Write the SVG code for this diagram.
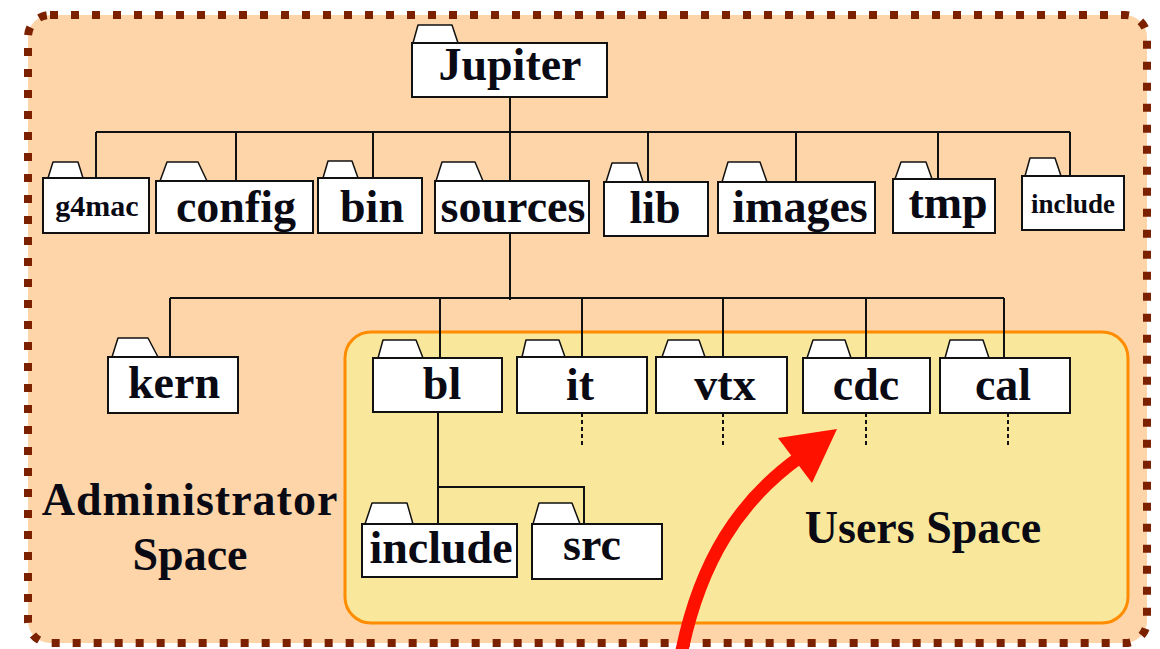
<svg xmlns="http://www.w3.org/2000/svg" width="1160" height="649" viewBox="0 0 1160 649">
<style>
.box{fill:#fff;stroke:#111;stroke-width:2}
.tab{fill:#fff;stroke:#111;stroke-width:1.5;stroke-linejoin:round}
.lbl{font-family:"Liberation Serif","Times New Roman",serif;font-weight:bold;font-size:46px;fill:#0a0a14;text-anchor:middle}
.sm{font-size:30px}
.ln{stroke:#111;stroke-width:2;fill:none}
.dash{stroke:#111;stroke-width:2;stroke-dasharray:4 3;fill:none}
</style>
<rect id="admin-space" x="28" y="15" width="1119" height="628" rx="22" fill="#FDD5A8" stroke="#7B2100" stroke-width="8" stroke-dasharray="8 13"/>
<rect id="users-space" x="345" y="332" width="783" height="291" rx="26" fill="#F9E89B" stroke="#FF8C00" stroke-width="3"/>
<text class="lbl" x="190" y="515" letter-spacing="1">Administrator</text>
<text class="lbl" x="190" y="570">Space</text>
<text class="lbl" x="923" y="543">Users Space</text>
<g id="connectors">
<path class="ln" d="M510 97V132M96 132H1070M96 132V178M236 132V181M373 132V178M510 132V181M648 132V182M796 132V182M938 132V179M1070 132V176"/>
<path class="ln" d="M510 233V300M170 298H1004M170 298V357M440 298V358M582 298V357M723 298V357M866 298V358M1004 298V358"/>
<path class="ln" d="M438 412V524M438 487H584V524"/>
<path class="dash" d="M582 413V448M723 413V448M866 413V446M1008 413V446"/>
</g>
<g id="jupiter"><polygon class="tab" points="413,43 418,25 452,25 458,43"/><rect class="box" x="412" y="43" width="195" height="54"/><text class="lbl" x="510" y="80">Jupiter</text></g>
<g id="g4mac"><polygon class="tab" points="48,178 53,162 78,162 83,178"/><rect class="box" x="43" y="178" width="106" height="55"/><text class="lbl sm" x="97" y="216">g4mac</text></g>
<g id="config"><polygon class="tab" points="160,181 167,162 198,162 207,181"/><rect class="box" x="156" y="181" width="157" height="52"/><text class="lbl" x="236" y="222">config</text></g>
<g id="bin"><polygon class="tab" points="323,178 328,161 352,161 358,178"/><rect class="box" x="318" y="178" width="104" height="55"/><text class="lbl" x="372" y="222">bin</text></g>
<g id="sources"><polygon class="tab" points="436,181 442,162 475,162 483,181"/><rect class="box" x="435" y="181" width="154" height="52"/><text class="lbl" x="513" y="222">sources</text></g>
<g id="lib"><polygon class="tab" points="606,182 612,163 637,163 643,182"/><rect class="box" x="604" y="182" width="104" height="54"/><text class="lbl" x="655" y="223">lib</text></g>
<g id="images"><polygon class="tab" points="722,182 728,162 760,162 767,182"/><rect class="box" x="718" y="182" width="157" height="51"/><text class="lbl" x="800" y="222">images</text></g>
<g id="tmp"><polygon class="tab" points="895,179 901,162 926,162 932,179"/><rect class="box" x="893" y="179" width="102" height="54"/><text class="lbl" x="948" y="218">tmp</text></g>
<g id="include-top"><polygon class="tab" points="1025,176 1030,158 1055,158 1061,176"/><rect class="box" x="1022" y="176" width="102" height="54"/><text class="lbl" x="1073" y="213" style="font-size:27px">include</text></g>
<g id="kern"><polygon class="tab" points="112,357 118,338 148,338 158,357"/><rect class="box" x="108" y="357" width="130" height="56"/><text class="lbl" x="174" y="398">kern</text></g>
<g id="bl"><polygon class="tab" points="378,358 383,340 416,340 423,358"/><rect class="box" x="373" y="358" width="129" height="54"/><text class="lbl" x="442" y="399">bl</text></g>
<g id="it"><polygon class="tab" points="522,357 526,340 559,340 565,357"/><rect class="box" x="517" y="357" width="130" height="56"/><text class="lbl" x="580" y="400">it</text></g>
<g id="vtx"><polygon class="tab" points="662,357 668,340 699,340 705,357"/><rect class="box" x="656" y="357" width="131" height="56"/><text class="lbl" x="725" y="400">vtx</text></g>
<g id="cdc"><polygon class="tab" points="807,358 813,340 845,340 851,358"/><rect class="box" x="803" y="358" width="127" height="55"/><text class="lbl" x="866" y="400">cdc</text></g>
<g id="cal"><polygon class="tab" points="945,358 950,340 983,340 989,358"/><rect class="box" x="940" y="358" width="130" height="55"/><text class="lbl" x="1003" y="400">cal</text></g>
<g id="include-bl"><polygon class="tab" points="365,524 372,503 407,503 413,524"/><rect class="box" x="362" y="524" width="155" height="53"/><text class="lbl" x="441" y="563">include</text></g>
<g id="src"><polygon class="tab" points="533,524 539,503 572,503 580,524"/><rect class="box" x="532" y="524" width="130" height="55"/><text class="lbl" x="592" y="560">src</text></g>
<g id="red-arrow">
<path d="M681 655 C700 560 740 500 800 457" fill="none" stroke="#FF1100" stroke-width="13"/>
<polygon points="837,429 778,438 812,483" fill="#FF1100"/>
</g>
</svg>
